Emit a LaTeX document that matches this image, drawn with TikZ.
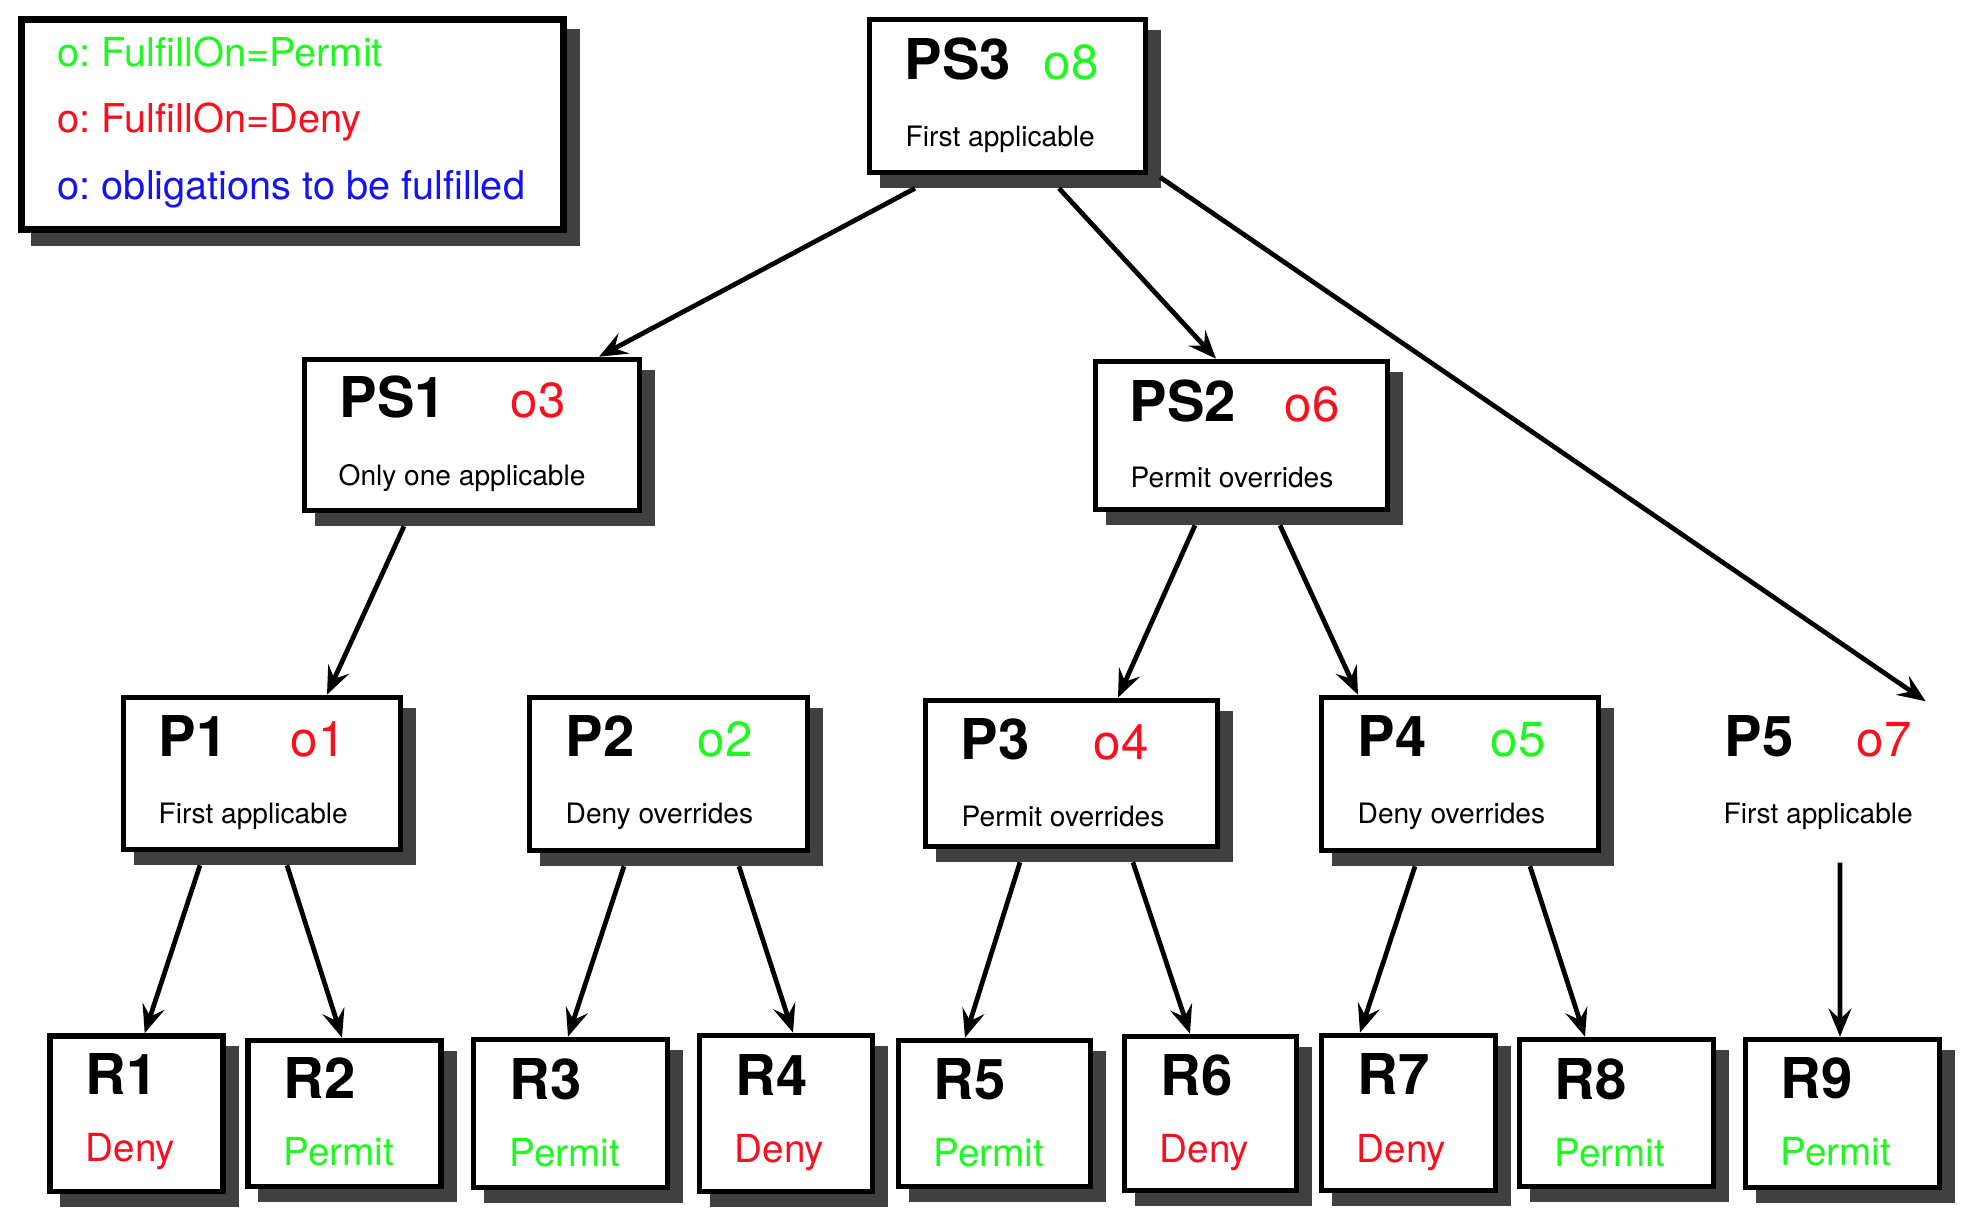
\documentclass[tikz,border=0pt]{standalone}
\usepackage{fontspec}
\setmainfont{TeX Gyre Heros}
\frenchspacing
\usetikzlibrary{arrows.meta, shadows}

\definecolor{okgreen}{RGB}{30,250,30}
\definecolor{nored}{RGB}{250,15,30}
\definecolor{obblue}{RGB}{20,20,240}
\definecolor{shadowgray}{RGB}{64,64,64}

\begin{document}
\begin{tikzpicture}[
  box/.style={draw, fill=white, line width=1.6pt, inner sep=0pt,
              drop shadow={shadow xshift=0.13cm, shadow yshift=-0.13cm,
                           opacity=1, fill=shadowgray, draw=shadowgray}},
  ghost/.style={inner sep=0pt},
  idtxt/.style={anchor=base west, inner sep=0pt, xshift=-0.03cm, font=\fontsize{16}{19}\selectfont\bfseries},
  obltxt/.style={anchor=base west, inner sep=0pt, xshift=-0.02cm, font=\fontsize{14}{17}\selectfont},
  algtxt/.style={anchor=base west, inner sep=0pt, xshift=-0.02cm, font=\fontsize{8}{10}\selectfont},
  efftxt/.style={anchor=base west, inner sep=0pt, xshift=-0.03cm, font=\fontsize{11}{13}\selectfont},
  legtxt/.style={anchor=base west, inner sep=0pt, font=\fontsize{11.3}{14}\selectfont},
  link/.style={-{Stealth[length=8pt, width=6.5pt, inset=3pt]}, line width=1.35pt}
]
  \useasboundingbox (0,0) rectangle (19.82,12.18);

  % legend
  \node[box, line width=1.8pt, minimum width=5.42cm, minimum height=2.10cm] (legend) at (2.925,10.935) {};
  \node[legtxt, text=okgreen] (leg1) at (0.57,11.51) {o: FulfillOn=Permit};
  \node[legtxt, text=nored]   (leg2) at (0.57,10.85) {o: FulfillOn=Deny};
  \node[legtxt, text=obblue]  (leg3) at (0.57,10.18) {o: obligations to be fulfilled};

  % policy sets
  \node[box, minimum width=2.76cm, minimum height=1.53cm] (ps3) at (10.075,11.22) {};
  \node[idtxt]                (ps3t) at (9.07,11.38)  {PS3};
  \node[obltxt, text=okgreen] (ps3o) at (10.45,11.38) {o8};
  \node[algtxt]               (ps3s) at (9.07,10.71)  {First applicable};

  \node[box, minimum width=3.35cm, minimum height=1.51cm] (ps1) at (4.72,7.83) {};
  \node[idtxt]              (ps1t) at (3.42,8.00) {PS1};
  \node[obltxt, text=nored] (ps1o) at (5.12,8.00) {o3};
  \node[algtxt]             (ps1s) at (3.40,7.32) {Only one applicable};

  \node[box, minimum width=2.92cm, minimum height=1.48cm] (ps2) at (12.415,7.825) {};
  \node[idtxt]              (ps2t) at (11.32,7.96) {PS2};
  \node[obltxt, text=nored] (ps2o) at (12.86,7.96) {o6};
  \node[algtxt]             (ps2s) at (11.32,7.30) {Permit overrides};

  % policies
  \node[box, minimum width=2.77cm, minimum height=1.52cm] (p1) at (2.62,4.445) {};
  \node[idtxt]              (p1t) at (1.61,4.61) {P1};
  \node[obltxt, text=nored] (p1o) at (2.92,4.61) {o1};
  \node[algtxt]             (p1s) at (1.60,3.94) {First applicable};

  \node[box, minimum width=2.78cm, minimum height=1.53cm] (p2) at (6.685,4.44) {};
  \node[idtxt]                (p2t) at (5.68,4.61) {P2};
  \node[obltxt, text=okgreen] (p2o) at (6.99,4.61) {o2};
  \node[algtxt]               (p2s) at (5.67,3.94) {Deny overrides};

  \node[box, minimum width=2.92cm, minimum height=1.46cm] (p3) at (10.715,4.445) {};
  \node[idtxt]              (p3t) at (9.63,4.58)  {P3};
  \node[obltxt, text=nored] (p3o) at (10.95,4.58) {o4};
  \node[algtxt]             (p3s) at (9.63,3.91)  {Permit overrides};

  \node[box, minimum width=2.77cm, minimum height=1.53cm] (p4) at (14.60,4.44) {};
  \node[idtxt]                (p4t) at (13.60,4.61) {P4};
  \node[obltxt, text=okgreen] (p4o) at (14.92,4.61) {o5};
  \node[algtxt]               (p4s) at (13.59,3.94) {Deny overrides};

  \node[ghost, minimum width=2.30cm, minimum height=1.60cm] (p5) at (18.10,4.36) {};
  \node[idtxt]              (p5t) at (17.27,4.61) {P5};
  \node[obltxt, text=nored] (p5o) at (18.58,4.61) {o7};
  \node[algtxt]             (p5s) at (17.25,3.94) {First applicable};

  % rules
  \node[box, minimum width=1.73cm, minimum height=1.555cm] (r1) at (1.367,1.0425) {};
  \node[idtxt]              (r1t) at (0.88,1.23) {R1};
  \node[efftxt, text=nored] (r1e) at (0.88,0.56) {Deny};

  \node[box, minimum width=1.93cm, minimum height=1.46cm] (r2) at (3.445,1.045) {};
  \node[idtxt]                (r2t) at (2.86,1.19) {R2};
  \node[efftxt, text=okgreen] (r2e) at (2.86,0.52) {Permit};

  \node[box, minimum width=1.94cm, minimum height=1.48cm] (r3) at (5.705,1.045) {};
  \node[idtxt]                (r3t) at (5.12,1.18) {R3};
  \node[efftxt, text=okgreen] (r3e) at (5.12,0.51) {Permit};

  \node[box, minimum width=1.73cm, minimum height=1.56cm] (r4) at (7.86,1.045) {};
  \node[idtxt]              (r4t) at (7.38,1.22) {R4};
  \node[efftxt, text=nored] (r4e) at (7.37,0.55) {Deny};

  \node[box, minimum width=1.92cm, minimum height=1.46cm] (r5) at (9.945,1.045) {};
  \node[idtxt]                (r5t) at (9.36,1.18) {R5};
  \node[efftxt, text=okgreen] (r5e) at (9.36,0.51) {Permit};

  \node[box, minimum width=1.72cm, minimum height=1.54cm] (r6) at (12.105,1.045) {};
  \node[idtxt]              (r6t) at (11.63,1.22) {R6};
  \node[efftxt, text=nored] (r6e) at (11.62,0.55) {Deny};

  \node[box, minimum width=1.74cm, minimum height=1.55cm] (r7) at (14.085,1.05) {};
  \node[idtxt]              (r7t) at (13.60,1.23) {R7};
  \node[efftxt, text=nored] (r7e) at (13.59,0.55) {Deny};

  \node[box, minimum width=1.94cm, minimum height=1.47cm] (r8) at (16.165,1.05) {};
  \node[idtxt]                (r8t) at (15.57,1.18) {R8};
  \node[efftxt, text=okgreen] (r8e) at (15.57,0.51) {Permit};

  \node[box, minimum width=1.94cm, minimum height=1.48cm] (r9) at (18.425,1.045) {};
  \node[idtxt]                (r9t) at (17.83,1.19) {R9};
  \node[efftxt, text=okgreen] (r9e) at (17.83,0.52) {Permit};

  % tree edges
  \draw[link] ([xshift=-0.925cm, yshift=-0.13cm]ps3.south) -- ([xshift=1.27cm]ps1.north);
  \draw[link] ([xshift=0.515cm, yshift=-0.13cm]ps3.south) -- ([xshift=-0.255cm]ps2.north);
  \draw[link] ([xshift=0.12cm, yshift=-0.02cm]ps3.south east) -- (p5.north east);

  \draw[link] ([xshift=-0.68cm, yshift=-0.13cm]ps1.south) -- ([xshift=0.65cm]p1.north);
  \draw[link] ([xshift=-0.465cm, yshift=-0.13cm]ps2.south) -- ([xshift=0.465cm]p3.north);
  \draw[link] ([xshift=0.385cm, yshift=-0.13cm]ps2.south) -- ([xshift=-1.02cm]p4.north);

  \draw[link] ([xshift=-0.62cm, yshift=-0.13cm]p1.south) -- ([xshift=0.08cm]r1.north);
  \draw[link] ([xshift=0.25cm, yshift=-0.13cm]p1.south) -- ([xshift=-0.025cm]r2.north);
  \draw[link] ([xshift=-0.445cm, yshift=-0.13cm]p2.south) -- ([xshift=-0.025cm]r3.north);
  \draw[link] ([xshift=0.705cm, yshift=-0.13cm]p2.south) -- ([xshift=0.07cm]r4.north);
  \draw[link] ([xshift=-0.515cm, yshift=-0.13cm]p3.south) -- ([xshift=-0.295cm]r5.north);
  \draw[link] ([xshift=0.615cm, yshift=-0.13cm]p3.south) -- ([xshift=-0.205cm]r6.north);
  \draw[link] ([xshift=-0.45cm, yshift=-0.13cm]p4.south) -- ([xshift=-0.485cm]r7.north);
  \draw[link] ([xshift=0.70cm, yshift=-0.13cm]p4.south) -- ([xshift=-0.315cm]r8.north);
  \draw[link] ([xshift=0.30cm]p5.south) -- ([xshift=-0.025cm]r9.north);
\end{tikzpicture}
\end{document}
